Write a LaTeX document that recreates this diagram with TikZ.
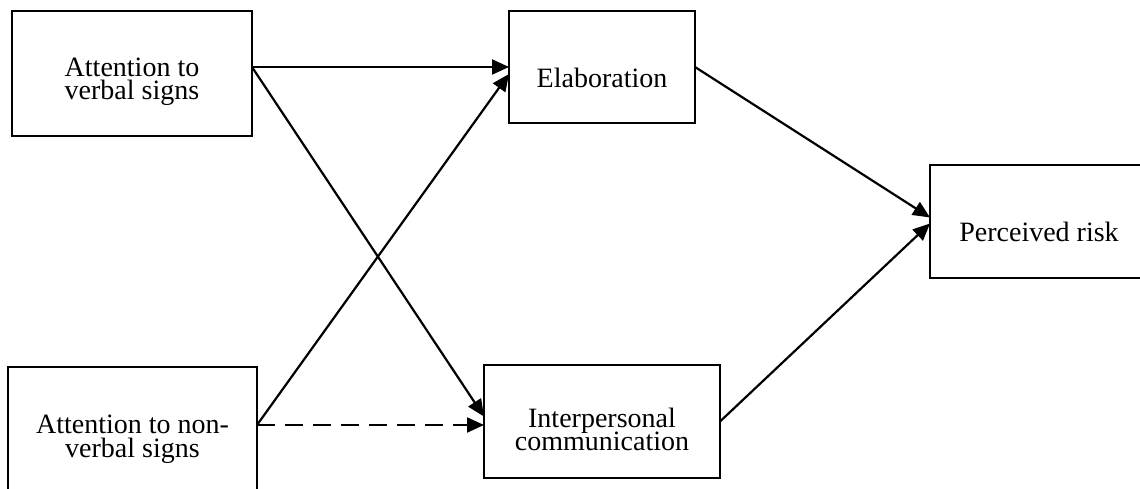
\documentclass[tikz,border=0pt]{standalone}
\usepackage{fontspec}
\setmainfont{Liberation Serif}
\usetikzlibrary{arrows.meta}
\begin{document}
\begin{tikzpicture}[x=1pt,y=-1pt,
  box/.style={draw,rectangle,line width=2.6pt,inner sep=0pt,outer sep=0pt},
  txt/.style={align=center,inner sep=0pt,font={\fontsize{28}{23.5}\selectfont\lineskiplimit=-100pt}},
  conn/.style={line width=2.2pt,-{Triangle[length=17pt,width=15pt]}},
  dashconn/.style={conn,dash pattern=on 18pt off 10pt}]
\useasboundingbox (0,0) rectangle (1140,489);
\fill[white] (0,0) rectangle (1140,489);
\clip (0,0) rectangle (1140,489);
% boxes
\node[box,minimum width=240pt,minimum height=125pt] (A) at (132,73.5) {};
\node[box,minimum width=249pt,minimum height=128pt] (B) at (132.5,431) {};
\node[box,minimum width=186pt,minimum height=112pt] (E) at (602,67) {};
\node[box,minimum width=236pt,minimum height=113pt] (I) at (602,421.5) {};
\node[box,minimum width=218pt,minimum height=113pt] (P) at (1039,221.5) {};
% texts
\node[txt] (At) at ([yshift=-8.5pt]A.center) {Attention to\\verbal signs};
\node[txt] (Bt) at ([yshift=-8pt]B.center) {Attention to non-\\verbal signs};
\node[txt] (Et) at ([yshift=-10.5pt]E.center) {Elaboration};
\node[txt] (It) at ([yshift=-8pt]I.center) {Interpersonal\\communication};
\node[txt] (Pt) at ([yshift=-10pt]P.center) {Perceived risk};
% connectors
\draw[conn] ([yshift=6.5pt]A.east) -- (E.west);
\draw[conn] ([yshift=6.5pt]A.east) -- ([yshift=5pt]I.west);
\draw[conn] ([yshift=6pt]B.east) -- ([yshift=-7pt]E.west);
\draw[dashconn] ([yshift=6pt]B.east) -- ([yshift=-3.5pt]I.west);
\draw[conn] (E.east) -- ([yshift=4pt]P.west);
\draw[conn] (I.east) -- ([yshift=-2pt]P.west);
\end{tikzpicture}
\end{document}
